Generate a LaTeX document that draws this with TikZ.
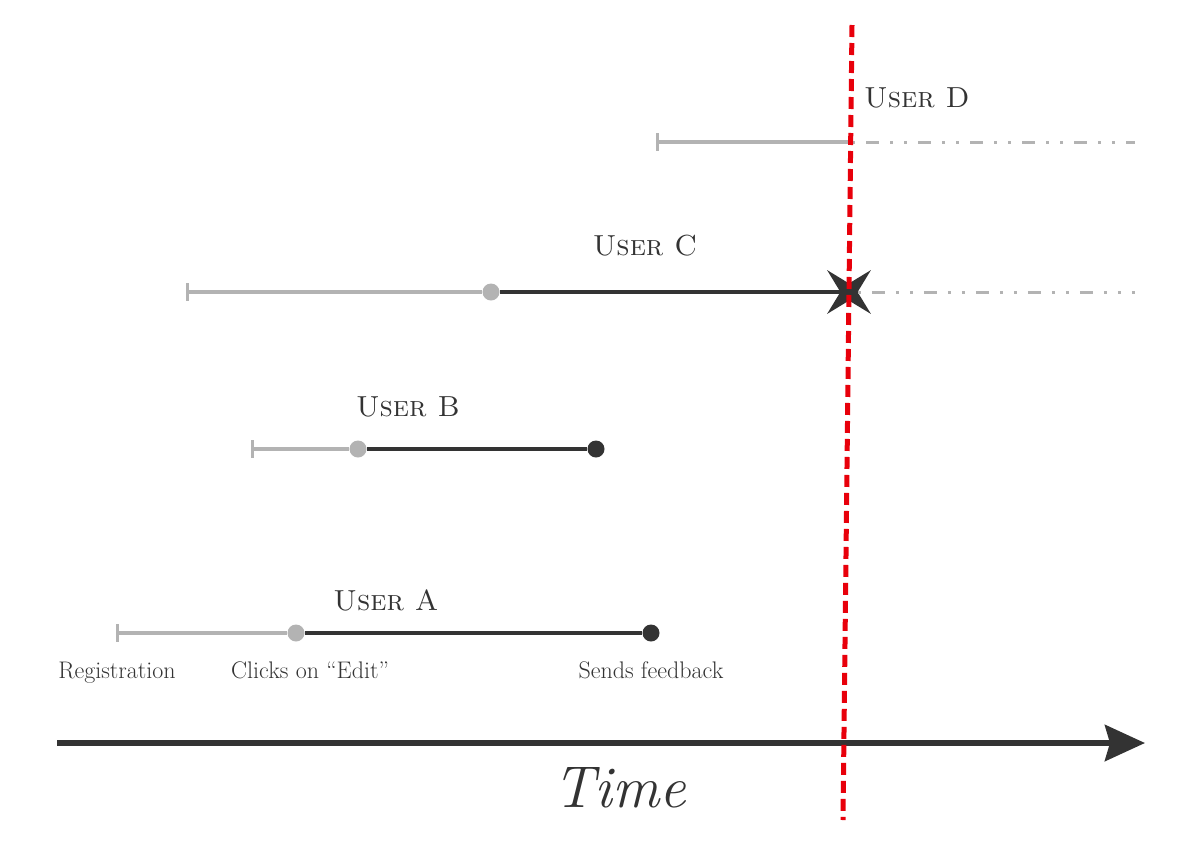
\documentclass[tikz,border=0pt]{standalone}
\usepackage{fontspec}
\usepackage{xcolor}
\usepackage{tikz}
\usetikzlibrary{arrows.meta,positioning,shapes.geometric}
\definecolor{ink}{HTML}{333333}
\definecolor{fade}{HTML}{B3B3B3}
\definecolor{cut}{HTML}{E8000B}

\begin{document}
\begin{tikzpicture}[x=1pt,y=-1pt,>=Stealth,
  startbar/.style={fill=fade,inner sep=0pt,minimum width=3pt,minimum height=18pt},
  graydot/.style={circle,fill=fade,inner sep=0pt,minimum size=17pt},
  inkdot/.style={circle,fill=ink,inner sep=0pt,minimum size=17pt},
  idle/.style={draw=fade,line width=3.2pt},
  active/.style={draw=ink,line width=3.5pt},
  future/.style={draw=fade,line width=3pt,dash pattern=on 3pt off 11pt on 13pt off 11pt on 3pt off 11pt},
  usr/.style={text=ink,font=\fontsize{29}{30}\selectfont},
  evt/.style={text=ink,font=\fontsize{24}{25}\selectfont,text height=16pt,text depth=5pt}]
\useasboundingbox (0,0) rectangle (1200,847);

% user A
\node[startbar] (a0) at (117,633) {};
\node[graydot] (a1) at (296,633) {};
\node[inkdot] (a2) at (651,633) {};
\draw[idle] (a0)--(a1);
\draw[active] (a1)--(a2);
\node[usr] (ua) at (386,600) {\textsc{User A}};
\node[evt,below=17pt of a0] (reg) {Registration};
\node[evt,xshift=14pt] (clk) at (a1 |- reg) {Clicks on “Edit”};
\node[evt] (snd) at (a2 |- reg) {Sends feedback};

% user B
\node[startbar] (b0) at (252,449) {};
\node[graydot] (b1) at (358,449) {};
\node[inkdot] (b2) at (596,449) {};
\draw[idle] (b0)--(b1);
\draw[active] (b1)--(b2);
\node[usr] (ub) at (408,407) {\textsc{User B}};

% user C
\node[startbar] (c0) at (187,292) {};
\node[graydot] (c1) at (491,292) {};
\node[star,star points=4,star point ratio=3.6,minimum size=62pt,inner sep=0pt,fill=ink,rotate=45] (c2) at (849,292) {};
\coordinate (c3) at (1135,292);
\draw[idle] (c0)--(c1);
\draw[active] (c1)--(c2.center);
\draw[future] (c2)--(c3);
\node[usr] (uc) at (645,246) {\textsc{User C}};

% user D
\node[startbar] (d0) at (657,142) {};
\coordinate (d1) at (852,142);
\coordinate (d2) at (1135,142);
\draw[idle] (d0)--(d1);
\draw[future] (d1)--(d2);
\node[usr] (ud) at (917,98) {\textsc{User D}};

% time axis
\coordinate (t0) at (57,743);
\coordinate (t1) at (1145,743);
\draw[->,draw=ink,line width=6pt,arrows={-Stealth[length=40pt,width=36pt,inset=5pt]}] (t0)--(t1);
\node[text=ink,font=\fontsize{59}{64}\selectfont\itshape] (time) at (620,788) {Time};

% cut-off
\coordinate (cuttop) at (852,25);
\coordinate (cutbot) at (843,820);
\draw[draw=cut,line width=5pt,dash pattern=on 12pt off 6pt] (cuttop)--(cutbot);
\end{tikzpicture}
\end{document}
